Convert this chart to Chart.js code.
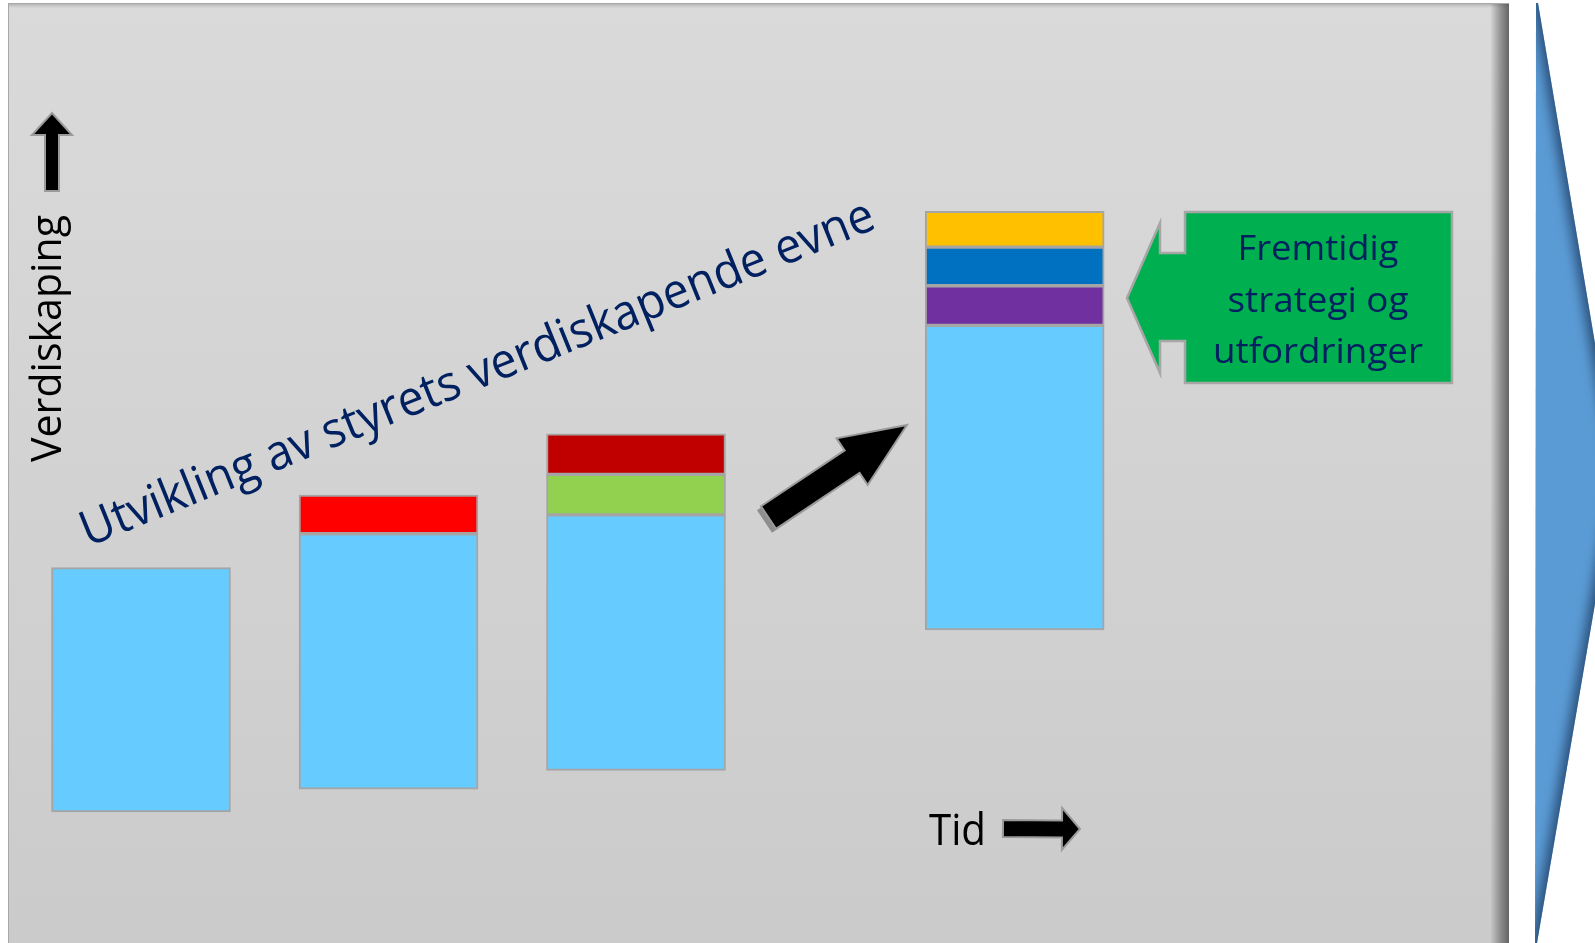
<!DOCTYPE html>
<html>
<head>
<meta charset="utf-8">
<script src="https://cdn.jsdelivr.net/npm/chart.js@4.4.1/dist/chart.umd.min.js"></script>
<style>
  html, body { margin: 0; padding: 0; background: #ffffff; overflow: hidden; }
  #wrap { position: relative; width: 1595px; height: 943px; }
</style>
</head>
<body>
<div id="wrap"><canvas id="c" width="1595" height="943"></canvas></div>
<script>
// Stage positions along the time axis
const perioder = [1, 2, 3, 4.53];

// Floating segments [fra, til] on the value-creation scale (0–100); null = no segment
const basis    = [[13.9, 39.8], [16.3, 43.4], [18.3, 45.4], [33.2, 65.5]];
const rod      = [null, [43.4, 47.5], null, null];
const gronn    = [null, null, [45.4, 49.7], null];
const morkerod = [null, null, [49.7, 54.0], null];
const lilla    = [null, null, null, [65.5, 69.7]];
const bla      = [null, null, null, [69.7, 73.8]];
const gul      = [null, null, null, [73.8, 77.6]];

const serier = [
  { navn: 'Basis',    verdier: basis,    farge: '#66CCFF' },
  { navn: 'Rød',      verdier: rod,      farge: '#FF0000' },
  { navn: 'Grønn',    verdier: gronn,    farge: '#92D050' },
  { navn: 'Mørkerød', verdier: morkerod, farge: '#C00000' },
  { navn: 'Lilla',    verdier: lilla,    farge: '#7030A0' },
  { navn: 'Blå',      verdier: bla,      farge: '#0070C0' },
  { navn: 'Gul',      verdier: gul,      farge: '#FFC000' }
];

const tekstFarge = '#002060';
const FONT = '"Open Sans", "DejaVu Sans", sans-serif';

// Draws text with a given cap height, condensed/stretched to a given width
function fitText(ctx, text, x, y, capH, width, opts) {
  opts = opts || {};
  const size = capH / 0.714;
  ctx.save();
  ctx.font = size + 'px ' + FONT;
  ctx.textBaseline = 'alphabetic';
  ctx.textAlign = opts.align || 'left';
  const w = ctx.measureText(text).width;
  ctx.translate(x, y);
  if (opts.angle) ctx.rotate(opts.angle);
  ctx.scale(width / w, 1);
  ctx.fillStyle = opts.color || '#000';
  ctx.fillText(text, 0, 0);
  ctx.restore();
}

function arrowPath(ctx, x0, y0, x1, y1, sw, hw, hl) {
  const dx = x1 - x0, dy = y1 - y0, L = Math.hypot(dx, dy);
  const ux = dx / L, uy = dy / L, nx = -uy, ny = ux;
  const bx = x1 - ux * hl, by = y1 - uy * hl;
  const p = [
    [x0 + nx * sw / 2, y0 + ny * sw / 2],
    [bx + nx * sw / 2, by + ny * sw / 2],
    [bx + nx * hw / 2, by + ny * hw / 2],
    [x1, y1],
    [bx - nx * hw / 2, by - ny * hw / 2],
    [bx - nx * sw / 2, by - ny * sw / 2],
    [x0 - nx * sw / 2, y0 - ny * sw / 2]
  ];
  ctx.beginPath();
  p.forEach((q, i) => i ? ctx.lineTo(q[0], q[1]) : ctx.moveTo(q[0], q[1]));
  ctx.closePath();
}

function drawArrow(ctx, x0, y0, x1, y1, sw, hw, hl) {
  ctx.save();
  arrowPath(ctx, x0, y0, x1, y1, sw, hw, hl);
  ctx.fillStyle = '#000000';
  ctx.fill();
  ctx.lineWidth = 2;
  ctx.strokeStyle = '#9a9a9a';
  ctx.lineJoin = 'miter';
  ctx.stroke();
  ctx.restore();
}

const bakgrunn = {
  id: 'bakgrunn',
  beforeDraw(chart) {
    const ctx = chart.ctx;
    const W = chart.width, H = chart.height;
    ctx.save();
    ctx.fillStyle = '#ffffff';
    ctx.fillRect(0, 0, W, H);

    // grey panel
    const g = ctx.createLinearGradient(0, 3, 0, H);
    g.addColorStop(0, '#dadada');
    g.addColorStop(1, '#cbcbcb');
    ctx.fillStyle = g;
    ctx.fillRect(8, 3, 1501, H - 3);
    const top = ctx.createLinearGradient(0, 3, 0, 8);
    top.addColorStop(0, 'rgba(120,120,120,0.45)');
    top.addColorStop(1, 'rgba(120,120,120,0)');
    ctx.fillStyle = top;
    ctx.fillRect(8, 3, 1501, 5);
    const side = ctx.createLinearGradient(1490, 0, 1509, 0);
    side.addColorStop(0, 'rgba(90,90,90,0)');
    side.addColorStop(0.55, 'rgba(90,90,90,0.55)');
    side.addColorStop(1, 'rgba(80,80,80,0.85)');
    ctx.fillStyle = side;
    ctx.fillRect(1490, 3, 19, H - 3);
    ctx.strokeStyle = '#a8a8a8';
    ctx.lineWidth = 1;
    ctx.beginPath();
    ctx.moveTo(8.5, H);
    ctx.lineTo(8.5, 3.5);
    ctx.lineTo(1509, 3.5);
    ctx.stroke();

    // blue chevron on the right
    ctx.beginPath();
    ctx.moveTo(1536, 3);
    ctx.lineTo(1538, 3);
    ctx.lineTo(1617, 475);
    ctx.lineTo(1537, H);
    ctx.lineTo(1535, H);
    ctx.closePath();
    ctx.save();
    ctx.clip();
    ctx.fillStyle = '#5B9BD5';
    ctx.fillRect(1530, 0, 100, H);
    ctx.filter = 'blur(6px)';
    ctx.strokeStyle = 'rgba(35,70,110,0.9)';
    ctx.lineWidth = 18;
    ctx.beginPath();
    ctx.moveTo(1538, -20);
    ctx.lineTo(1621, 475);
    ctx.lineTo(1537, H + 20);
    ctx.stroke();
    ctx.restore();
    ctx.restore();
  },
  afterDatasetsDraw(chart) {
    const ctx = chart.ctx;

    // axis labels and arrows
    fitText(ctx, 'Verdiskaping', 61, 462, 30, 247, { angle: -Math.PI / 2, color: '#000' });
    drawArrow(ctx, 52, 191, 52, 113, 14, 40, 22);
    fitText(ctx, 'Tid', 929, 845, 31, 57, { color: '#000' });
    drawArrow(ctx, 1003, 828.5, 1080, 829, 17, 42, 18);

    // diagonal arrow with a grey bevel at the tail
    ctx.save();
    ctx.translate(-4, 4);
    arrowPath(ctx, 768.5, 517.5, 820, 483, 27, 27, 1);
    ctx.fillStyle = '#8e8e8e';
    ctx.fill();
    ctx.restore();
    drawArrow(ctx, 768.5, 517.5, 907, 425, 27, 56, 66);

    // slanted heading
    fitText(ctx, 'Utvikling av styrets verdiskapende evne', 88, 547, 35, 852,
            { angle: -22 * Math.PI / 180, color: tekstFarge });

    // green callout
    ctx.save();
    ctx.beginPath();
    const c = [[1452, 212], [1185, 212], [1185, 253], [1160, 253], [1160, 223], [1127, 298],
               [1160, 373], [1160, 341], [1185, 341], [1185, 383], [1452, 383]];
    c.forEach((q, i) => i ? ctx.lineTo(q[0], q[1]) : ctx.moveTo(q[0], q[1]));
    ctx.closePath();
    ctx.fillStyle = '#00B050';
    ctx.fill();
    ctx.lineWidth = 2.5;
    ctx.strokeStyle = '#a6a6a6';
    ctx.stroke();
    ctx.restore();
    fitText(ctx, 'Fremtidig', 1318, 260, 25, 161, { align: 'center', color: tekstFarge });
    fitText(ctx, 'strategi og', 1318, 312, 25, 181, { align: 'center', color: tekstFarge });
    fitText(ctx, 'utfordringer', 1318, 363, 25, 210, { align: 'center', color: tekstFarge });
  }
};

const datasets = serier.map(s => ({
  label: s.navn,
  data: perioder.map((x, i) => s.verdier[i] ? { x: x, y: s.verdier[i] } : null).filter(Boolean),
  backgroundColor: s.farge,
  borderColor: '#a5a5a5',
  borderWidth: 2,
  borderSkipped: false,
  barThickness: 179,
  grouped: false
}));

new Chart(document.getElementById('c'), {
  type: 'bar',
  data: { datasets: datasets },
  options: {
    responsive: false,
    animation: false,
    devicePixelRatio: 1,
    layout: { padding: 0 },
    plugins: { legend: { display: false }, tooltip: { enabled: false } },
    scales: {
      x: { type: 'linear', min: 0.4303, max: 6.8747, offset: false, display: false },
      y: { type: 'linear', min: 0, max: 100, display: false }
    }
  },
  plugins: [bakgrunn]
});
</script>
</body>
</html>
